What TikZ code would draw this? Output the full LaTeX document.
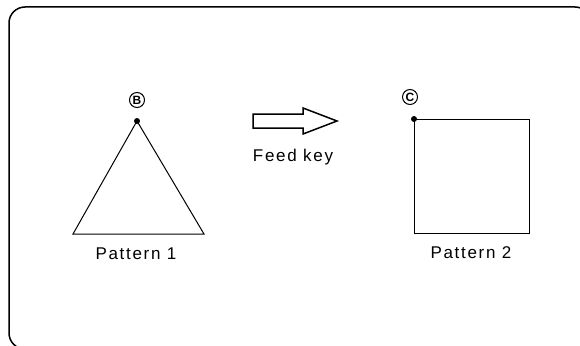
\documentclass[tikz,border=0pt]{standalone}
\usepackage{fontspec}
\setmainfont{Liberation Sans}
\newfontfamily\lblfont[LetterSpace=10]{Liberation Sans}
\begin{document}
\begin{tikzpicture}[x=1pt,y=-1pt,
  lbl/.style={font=\lblfont\fontsize{17}{19}\selectfont, inner sep=0pt},
  circ/.style={draw, circle, line width=1pt, inner sep=0pt, minimum size=15pt,
     font=\fontsize{12}{13}\selectfont\bfseries},
  shapeline/.style={line width=1pt, line join=miter},
  dotmark/.style={circle, fill, inner sep=0pt, minimum size=6pt}]
\useasboundingbox (0,0) rectangle (580,345);
\clip (0,0) rectangle (580,345);
% frame
\draw[line width=1.5pt, rounded corners=16pt] (9,7) rectangle (591,349);
% pattern 1: triangle
\coordinate (tA) at (137,121);
\coordinate (tL) at (73,234);
\coordinate (tR) at (204,234);
\draw[shapeline] (tA) -- (tL) -- (tR) -- cycle;
\node[dotmark] (dB) at (tA) {};
\node[circ] (cB) at (137,100) {B};
\node[lbl] (p1) at (136,254) {Pattern 1};
% arrow
\draw[line width=1.5pt, line join=miter] (253,114) -- (303,114) -- (303,108) -- (337,121)
   -- (303,134) -- (303,128) -- (253,128) -- cycle;
\node[lbl] (fk) at (293,157) {Feed key};
% pattern 2: square
\coordinate (sTL) at (414,119);
\coordinate (sBR) at (529,233);
\draw[shapeline] (sTL) rectangle (sBR);
\node[dotmark] (dC) at (sTL) {};
\node[circ] (cC) at (410,97) {C};
\node[lbl] (p2) at (471,253) {Pattern 2};
\end{tikzpicture}
\end{document}
